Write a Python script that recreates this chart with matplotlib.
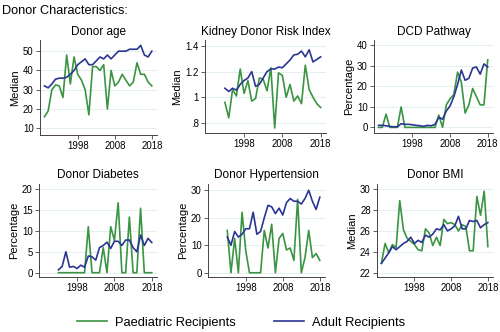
import matplotlib.pyplot as plt
import numpy as np

years_89 = list(range(1989, 2019))
years_93 = list(range(1993, 2019))

age_paed = [16, 19, 30, 32.5, 32, 26, 48, 33, 47, 38, 35, 30, 17, 42, 42, 40, 43, 20, 40, 32,
            34, 38, 35, 32, 34, 44, 38, 38, 34, 32]
age_adult = [32, 31, 33, 35.5, 36, 36, 36.5, 38, 40, 43, 44.5, 46, 43, 43, 45, 47, 46, 48, 46, 48,
             50, 50, 50, 51, 51, 51, 53, 48, 47, 50]

kdri_paed = [0.96, 0.84, 1.06, 1.01, 1.22, 1.03, 1.13, 0.97, 0.99, 1.15, 1.14, 1.05, 1.23, 0.76,
             1.19, 1.17, 1.0, 1.1, 0.97, 1.01, 0.95, 1.25, 1.06, 1.0, 0.95, 0.92]
kdri_adult = [1.07, 1.045, 1.07, 1.055, 1.1, 1.13, 1.15, 1.2, 1.085, 1.1, 1.15, 1.2, 1.22, 1.22,
              1.235, 1.23, 1.26, 1.29, 1.33, 1.335, 1.36, 1.315, 1.37, 1.275, 1.295, 1.315]

dcd_paed = [0, 0, 6.5, 0, 0, 0, 10, 0, 0, 0, 0, 0, 0, 0, 0, 0, 6, 0, 11, 14,
            16, 27, 22, 7, 11, 19, 15, 11, 11, 33]
dcd_adult = [1, 1, 0.8, 0.5, 0.3, 0.3, 1.8, 1.5, 1.5, 1.3, 1, 0.8, 0.5, 1.0, 0.8, 1.5, 5, 4, 8, 10.5,
             15, 21, 28, 23, 24, 29, 29.5, 26, 31, 29.5]

diab_paed = [0, 0, 0, 0, 0, 0, 0, 0, 11, 0, 0, 0, 6, 0, 11, 7.7, 16.7, 0, 0, 13.3,
             0, 0, 15.4, 0, 0, 0]
diab_adult = [0.7, 1.5, 5, 1.3, 1.5, 1, 1.8, 1.3, 4, 3.8, 3, 6, 6.5, 7.3, 5.8, 7.5, 7.5, 6.5, 7.8, 7.8,
              6, 5, 9, 6.5, 8.2, 7.2]

htn_paed = [15.4, 0, 12.5, 0, 22, 8, 0, 0, 0, 0, 15.4, 9, 17.6, 0, 12.5, 14.3, 8.3, 9, 4.5, 26.7,
            0, 5.5, 15.4, 5.5, 7, 4.5]
htn_adult = [13, 10, 15, 13, 14, 16, 16, 22, 14, 15, 20, 24.5, 24, 21.5, 23.5, 21, 25.5, 27, 26, 26,
             25, 27, 30, 26, 23, 27.5]

bmi_paed = [22.9, 24.8, 23.9, 24.7, 24.4, 28.9, 26.1, 25.3, 25.0, 24.7, 24.2, 24.1, 26.2, 25.8, 24.6,
            25.4, 24.6, 27.1, 26.7, 26.8, 26.6, 26.0, 26.6, 26.4, 24.1, 24.1, 29.3, 27.5, 29.8, 24.5]
bmi_adult = [22.9, 23.4, 23.9, 24.5, 24.2, 24.5, 24.8, 25.0, 25.4, 24.8, 25.1, 24.9, 25.6, 25.4, 25.7,
             26.2, 26.1, 26.6, 26.0, 26.2, 26.5, 27.4, 26.2, 26.2, 27.0, 26.9, 27.0, 26.3, 26.6, 26.8]

green = '#3a9442'
blue = '#2b3594'
grid_c = '#e6efef'

plt.rcParams['font.family'] = 'Liberation Sans'

fig = plt.figure(figsize=(5, 3.32), dpi=100)
fig.text(0.004, 0.968, 'Donor Characteristics:', fontsize=9.2, va='center', ha='left')

panels = [
    # title, ylabel, years, paed, adult, yticks, yticklabels, ylim, rect
    ('Donor age', 'Median', years_89, age_paed, age_adult, [10, 20, 30, 40, 50], None,
     (6.5, 55.7), [0.080, 0.593, 0.234, 0.286]),
    ('Kidney Donor Risk Index', 'Median', years_93, kdri_paed, kdri_adult, [0.8, 1.0, 1.2, 1.4],
     ['.8', '1', '1.2', '1.4'], (0.72, 1.445), [0.410, 0.599, 0.242, 0.280]),
    ('DCD Pathway', 'Percentage', years_89, dcd_paed, dcd_adult, [0, 10, 20, 30, 40], None,
     (-2.8, 42.6), [0.748, 0.599, 0.238, 0.280]),
    ('Donor Diabetes', 'Percentage', years_93, diab_paed, diab_adult, [0, 5, 10, 15, 20], None,
     (-1.0, 21.2), [0.078, 0.166, 0.236, 0.280]),
    ('Donor Hypertension', 'Percentage', years_93, htn_paed, htn_adult, [0, 10, 20, 30], None,
     (-1.5, 32.3), [0.416, 0.166, 0.234, 0.280]),
    ('Donor BMI', 'Median', years_89, bmi_paed, bmi_adult, [22, 24, 26, 28, 30], None,
     (21.6, 30.5), [0.754, 0.166, 0.232, 0.280]),
]

for title, ylab, yrs, paed, adult, yt, ytl, ylim, rect in panels:
    ax = fig.add_axes(rect)
    ax.plot(yrs, paed, color=green, lw=1.2)
    ax.plot(yrs, adult, color=blue, lw=1.2)
    ax.set_xlim(1987.8, 2019.4)
    ax.set_ylim(*ylim)
    ax.set_xticks([1998, 2008, 2018])
    ax.set_yticks(yt)
    if ytl is not None:
        ax.set_yticklabels(ytl)
    ax.grid(axis='y', color=grid_c, lw=0.8)
    ax.set_axisbelow(True)
    for s in ['top', 'right']:
        ax.spines[s].set_visible(False)
    for s in ['left', 'bottom']:
        ax.spines[s].set_color('#444444')
        ax.spines[s].set_linewidth(0.7)
    ax.tick_params(labelsize=6.9, length=3, width=0.6, color='#444444', pad=1.5)
    ax.set_title(title, fontsize=8.5, pad=4)
    ax.set_ylabel(ylab, fontsize=8, labelpad=2)

# legend
h1, = plt.plot([], [], color=green, lw=1.2)
h2, = plt.plot([], [], color=blue, lw=1.2)
fig.legend([h1, h2], ['Paediatric Recipients', 'Adult Recipients'], loc='center left',
           bbox_to_anchor=(0.154, 0.028), ncol=2, frameon=False, fontsize=9.3,
           handlelength=2.32, columnspacing=3.0, handletextpad=0.62,
           borderpad=0, borderaxespad=0)

fig.savefig('out.png', dpi=100)
